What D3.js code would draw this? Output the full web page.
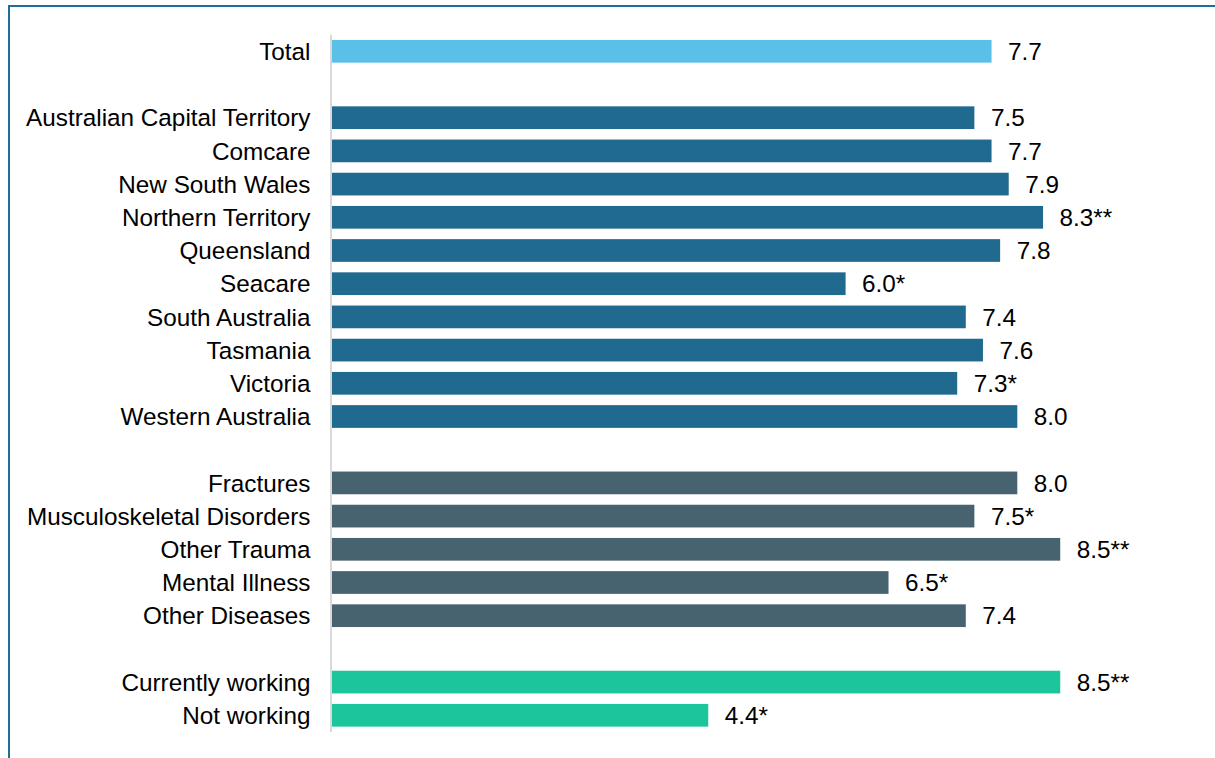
<!DOCTYPE html>
<html>
<head>
<meta charset="utf-8">
<script src="https://cdn.jsdelivr.net/npm/d3@7"></script>
<style>
  html, body { margin: 0; padding: 0; background: #fff; }
  svg { display: block; }
  text { font-family: "Liberation Sans", Arial, sans-serif; fill: #000; }
</style>
</head>
<body>
<svg id="chart" width="1215" height="758"></svg>
<script>
// ---- data ----
const categories = [
  "Total", "",
  "Australian Capital Territory", "Comcare", "New South Wales", "Northern Territory",
  "Queensland", "Seacare", "South Australia", "Tasmania", "Victoria", "Western Australia", "",
  "Fractures", "Musculoskeletal Disorders", "Other Trauma", "Mental Illness", "Other Diseases", "",
  "Currently working", "Not working"
];
const values = [
  7.7, null,
  7.5, 7.7, 7.9, 8.3, 7.8, 6.0, 7.4, 7.6, 7.3, 8.0, null,
  8.0, 7.5, 8.5, 6.5, 7.4, null,
  8.5, 4.4
];
const markers = [
  "", "",
  "", "", "", "**", "", "*", "", "", "*", "", "",
  "", "*", "**", "*", "", "",
  "**", "*"
];
const groups = [
  "total", null,
  "jur", "jur", "jur", "jur", "jur", "jur", "jur", "jur", "jur", "jur", null,
  "inj", "inj", "inj", "inj", "inj", null,
  "work", "work"
];
const groupColors = { total: "#5BC0E8", jur: "#206A8F", inj: "#46636F", work: "#1DC59C" };

// ---- build rows ----
const rows = categories.map((c, i) => ({
  key: "r" + i, label: c, value: values[i], marker: markers[i], group: groups[i]
}));

const svg = d3.select("#chart");

// frame lines (top and left)
svg.append("line").attr("x1", 8).attr("x2", 1215).attr("y1", 6).attr("y2", 6)
  .attr("stroke", "#1F6E9A").attr("stroke-width", 2);
svg.append("line").attr("x1", 9).attr("x2", 9).attr("y1", 5).attr("y2", 758)
  .attr("stroke", "#1F6E9A").attr("stroke-width", 2);

const x = d3.scaleLinear().domain([0, 10]).range([330.5, 1189]);
const y = d3.scaleBand()
  .domain(rows.map(d => d.key))
  .range([34.7, 731.9])
  .paddingInner(0.316)
  .paddingOuter(0.158);

const data = rows.filter(d => d.value !== null);

// bars
svg.append("g").selectAll("rect").data(data).join("rect")
  .attr("x", x(0))
  .attr("y", d => y(d.key))
  .attr("width", d => x(d.value) - x(0))
  .attr("height", y.bandwidth())
  .attr("fill", d => groupColors[d.group]);

// axis line
svg.append("line")
  .attr("x1", 331).attr("x2", 331)
  .attr("y1", 34.7).attr("y2", 731.9)
  .attr("stroke", "#D9D9D9").attr("stroke-width", 2);

// category labels
svg.append("g").selectAll("text").data(data).join("text")
  .attr("x", 310.5)
  .attr("y", d => y(d.key) + y.bandwidth() / 2)
  .attr("dy", "0.36em")
  .attr("text-anchor", "end")
  .attr("font-size", 24.3)
  .text(d => d.label);

// value labels
svg.append("g").selectAll("text").data(data).join("text")
  .attr("x", d => x(d.value) + 16.5)
  .attr("y", d => y(d.key) + y.bandwidth() / 2)
  .attr("dy", "0.36em")
  .attr("font-size", 24.3)
  .text(d => d3.format(".1f")(d.value) + d.marker);
</script>
</body>
</html>
